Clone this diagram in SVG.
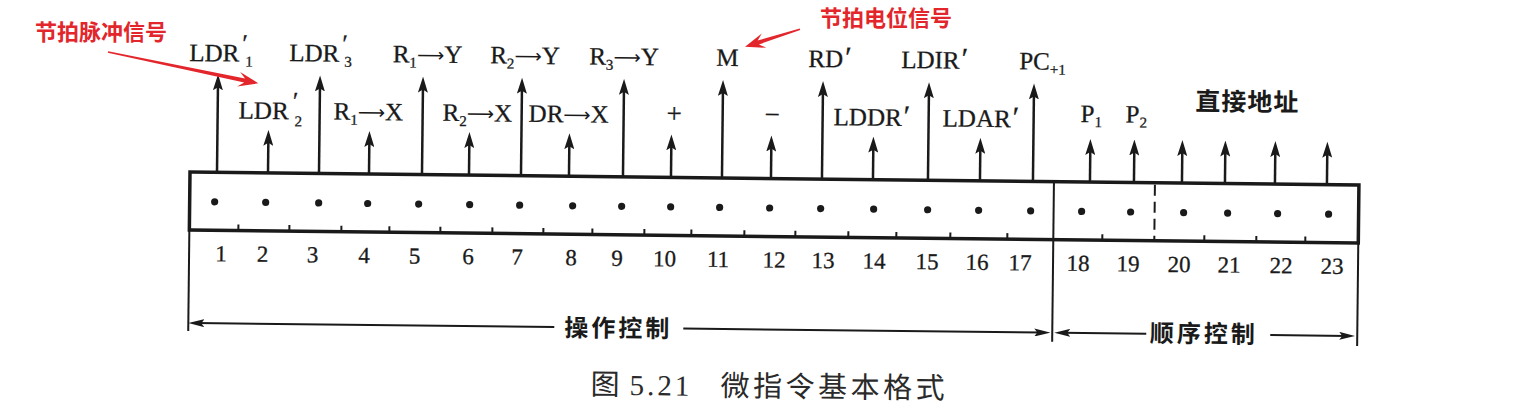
<svg xmlns="http://www.w3.org/2000/svg" width="1532" height="412" viewBox="0 0 1532 412">
<style>
.bg{fill:#ffffff}
.lbl{font-family:"Liberation Serif","DejaVu Serif",serif;font-size:25px;fill:#1a1a1a;stroke:#1a1a1a;stroke-width:0.3}
.sub{font-size:15px}
.pr{font-size:30px}
.arr{font-family:"DejaVu Sans",sans-serif;font-size:19px;stroke-width:0}
.num{font-family:"Liberation Serif","DejaVu Serif",serif;font-size:23px;fill:#1a1a1a;text-anchor:middle;stroke:#1a1a1a;stroke-width:0.3}
.cjk{font-family:"Noto Sans CJK SC",sans-serif;font-weight:bold;fill:#1a1a1a}
.cap{font-family:"Noto Sans CJK SC",sans-serif;font-size:29px;fill:#2a2a2a}
.red{font-family:"Noto Sans CJK SC",sans-serif;font-weight:bold;font-size:22px;fill:#e2262b}
.sig{stroke:#1a1a1a;stroke-width:2.5;fill:none;marker-end:url(#ah)}
.brk{stroke:#1a1a1a;stroke-width:2;fill:none;marker-end:url(#ah2)}
.edge{stroke:#1a1a1a;stroke-width:2;fill:none}
.tick{stroke:#1a1a1a;stroke-width:2}
.dot{fill:#1a1a1a}
</style>
<defs>
<marker id="ah" markerUnits="userSpaceOnUse" viewBox="0 0 16 10" markerWidth="16" markerHeight="10" refX="8" refY="5" orient="auto">
<path d="M0,0 L16,5 L0,10 L3,5 Z" fill="#1a1a1a"/>
</marker>
<marker id="ah2" markerUnits="userSpaceOnUse" viewBox="0 0 16 8" markerWidth="16" markerHeight="8" refX="8" refY="4" orient="auto">
<path d="M0,0 L16,4 L0,8 L3,4 Z" fill="#1a1a1a"/>
</marker>
</defs>
<rect class="bg" x="0" y="0" width="1532" height="412"/>
<g id="figure" transform="rotate(0.64 190 172)">
<g id="connectors">
<line class="sig" x1="217" y1="172" x2="217" y2="82"/>
<line class="sig" x1="268" y1="172" x2="268" y2="137"/>
<line class="sig" x1="319" y1="172" x2="319" y2="82"/>
<line class="sig" x1="369" y1="172" x2="369" y2="137"/>
<line class="sig" x1="422" y1="172" x2="422" y2="82"/>
<line class="sig" x1="469" y1="172" x2="469" y2="137"/>
<line class="sig" x1="521" y1="172" x2="521" y2="82"/>
<line class="sig" x1="569" y1="172" x2="569" y2="137"/>
<line class="sig" x1="623" y1="172" x2="623" y2="82"/>
<line class="sig" x1="671" y1="172" x2="671" y2="137"/>
<line class="sig" x1="722" y1="172" x2="722" y2="82"/>
<line class="sig" x1="771" y1="172" x2="771" y2="137"/>
<line class="sig" x1="822" y1="172" x2="822" y2="82"/>
<line class="sig" x1="873" y1="172" x2="873" y2="137"/>
<line class="sig" x1="928" y1="172" x2="928" y2="82"/>
<line class="sig" x1="980" y1="172" x2="980" y2="137"/>
<line class="sig" x1="1033" y1="172" x2="1033" y2="82"/>
<line class="sig" x1="1090" y1="172" x2="1090" y2="137"/>
<line class="sig" x1="1134" y1="172" x2="1134" y2="137"/>
<line class="sig" x1="1182" y1="172" x2="1182" y2="137"/>
<line class="sig" x1="1225" y1="172" x2="1225" y2="137"/>
<line class="sig" x1="1275" y1="172" x2="1275" y2="137"/>
<line class="sig" x1="1327" y1="172" x2="1327" y2="137"/>
<line class="brk" x1="556" y1="323" x2="198" y2="323"/>
<line class="brk" x1="685" y1="323" x2="1044" y2="323"/>
<line class="brk" x1="1148" y1="323" x2="1064" y2="323"/>
<line class="brk" x1="1272" y1="323" x2="1349" y2="323"/>
</g>
<g id="microinstruction">
<rect x="190" y="172" width="1169" height="58" fill="none" stroke="#1a1a1a" stroke-width="3.5"/>
<line class="edge" x1="190" y1="230" x2="190" y2="331"/>
<line class="edge" x1="1054" y1="172" x2="1054" y2="332"/>
<line class="edge" x1="1359" y1="230" x2="1359" y2="333"/>
<line x1="1155" y1="174" x2="1155" y2="229" stroke="#1a1a1a" stroke-width="2" stroke-dasharray="11 6"/>
<g class="tick">
<line x1="239" y1="230" x2="239" y2="224"/><line x1="290" y1="230" x2="290" y2="224"/>
<line x1="342" y1="230" x2="342" y2="224"/><line x1="390" y1="230" x2="390" y2="224"/>
<line x1="441" y1="230" x2="441" y2="224"/><line x1="493" y1="230" x2="493" y2="224"/>
<line x1="544" y1="230" x2="544" y2="224"/><line x1="593" y1="230" x2="593" y2="224"/>
<line x1="645" y1="230" x2="645" y2="224"/><line x1="692" y1="230" x2="692" y2="224"/>
<line x1="745" y1="230" x2="745" y2="224"/><line x1="796" y1="230" x2="796" y2="224"/>
<line x1="849" y1="230" x2="849" y2="224"/><line x1="897" y1="230" x2="897" y2="224"/>
<line x1="951" y1="230" x2="951" y2="224"/><line x1="1008" y1="230" x2="1008" y2="224"/>
<line x1="1103" y1="230" x2="1103" y2="224"/><line x1="1205" y1="230" x2="1205" y2="224"/>
<line x1="1257" y1="230" x2="1257" y2="224"/><line x1="1306" y1="230" x2="1306" y2="224"/>
</g>
<g class="dot">
<circle cx="215" cy="201.5" r="3.6"/><circle cx="266" cy="201.5" r="3.6"/><circle cx="319" cy="201.5" r="3.6"/>
<circle cx="368" cy="201.5" r="3.6"/><circle cx="419" cy="201.5" r="3.6"/><circle cx="470" cy="201.5" r="3.6"/>
<circle cx="520" cy="201.5" r="3.6"/><circle cx="573" cy="201.5" r="3.6"/><circle cx="622" cy="201.5" r="3.6"/>
<circle cx="671" cy="201.5" r="3.6"/><circle cx="720" cy="201.5" r="3.6"/><circle cx="770" cy="201.5" r="3.6"/>
<circle cx="821" cy="201.5" r="3.6"/><circle cx="874" cy="201.5" r="3.6"/><circle cx="928" cy="201.5" r="3.6"/>
<circle cx="979" cy="201.5" r="3.6"/><circle cx="1031" cy="201.5" r="3.6"/><circle cx="1082" cy="201.5" r="3.6"/>
<circle cx="1131" cy="201.5" r="3.6"/><circle cx="1184" cy="201.5" r="3.6"/><circle cx="1228" cy="201.5" r="3.6"/>
<circle cx="1278" cy="201.5" r="3.6"/><circle cx="1329" cy="201.5" r="3.6"/>
</g>
</g>
<g id="bit-numbers" class="num">
<text x="222" y="261">1</text><text x="263.5" y="261">2</text><text x="313.5" y="261">3</text>
<text x="365" y="261">4</text><text x="415.5" y="261">5</text><text x="469" y="261">6</text>
<text x="518" y="261">7</text><text x="572" y="261">8</text><text x="618" y="261">9</text>
<text x="665.5" y="261">10</text><text x="719" y="261">11</text><text x="775" y="261">12</text>
<text x="824" y="261">13</text><text x="875" y="261">14</text><text x="928" y="261">15</text>
<text x="978" y="261">16</text><text x="1021" y="261">17</text><text x="1079" y="261">18</text>
<text x="1129" y="261">19</text><text x="1180" y="261">20</text><text x="1230" y="261">21</text>
<text x="1282" y="261">22</text><text x="1333" y="261">23</text>
</g>
<g id="signals" class="lbl">
<text x="188" y="61">LDR<tspan x="241" y="51">′</tspan><tspan class="sub" x="244" y="66">1</tspan></text>
<text x="288" y="60">LDR<tspan x="341" y="50">′</tspan><tspan class="sub" x="343" y="65">3</tspan></text>
<text x="391.5" y="60">R<tspan class="sub" dy="5">1</tspan><tspan class="arr" dy="-6">⟶</tspan><tspan dy="1">Y</tspan></text>
<text x="489" y="60">R<tspan class="sub" dy="5">2</tspan><tspan class="arr" dy="-6">⟶</tspan><tspan dy="1">Y</tspan></text>
<text x="588" y="60">R<tspan class="sub" dy="5">3</tspan><tspan class="arr" dy="-6">⟶</tspan><tspan dy="1">Y</tspan></text>
<text x="715" y="60">M</text>
<text x="807" y="60">RD<tspan class="pr" dx="2">′</tspan></text>
<text x="900" y="60">LDIR<tspan class="pr" dx="2">′</tspan></text>
<text x="1018" y="60">PC<tspan class="sub" dy="5">+1</tspan></text>
<text x="238" y="118">LDR<tspan x="292" y="108">′</tspan><tspan class="sub" x="294" y="125">2</tspan></text>
<text x="333" y="118">R<tspan class="sub" dy="5">1</tspan><tspan class="arr" dy="-6">⟶</tspan><tspan dy="1">X</tspan></text>
<text x="442" y="118">R<tspan class="sub" dy="5">2</tspan><tspan class="arr" dy="-6">⟶</tspan><tspan dy="1">X</tspan></text>
<text x="528" y="118">DR<tspan class="arr" dy="-1">⟶</tspan><tspan dy="1">X</tspan></text>
<text x="673.5" y="117" text-anchor="middle" font-size="27">+</text>
<text x="771.5" y="117" text-anchor="middle" font-size="27">−</text>
<text x="833" y="118">LDDR<tspan class="pr" dx="2">′</tspan></text>
<text x="942" y="118">LDAR<tspan class="pr" dx="2">′</tspan></text>
<text x="1080" y="112">P<tspan class="sub" dy="5">1</tspan></text>
<text x="1125" y="112">P<tspan class="sub" dy="5">2</tspan></text>
</g>
<g id="field-labels">
<text class="cjk" x="1246.5" y="99" font-size="25" text-anchor="middle" letter-spacing="1">直接地址</text>
<text class="cjk" x="620" y="332" font-size="24" text-anchor="middle" letter-spacing="3">操作控制</text>
<text class="cjk" x="1205.5" y="331" font-size="24" text-anchor="middle" letter-spacing="3">顺序控制</text>
</g>
<g id="caption">
<text class="cap" x="593" y="390">图</text>
<text x="632" y="390" font-family="Liberation Serif, serif" font-size="29" fill="#2a2a2a" letter-spacing="3">5.21</text>
<text class="cap" x="723" y="390" letter-spacing="3.5">微指令基本格式</text>
</g>
</g>
<g id="annotations">
<g id="note-pulse">
<text class="red" x="35" y="39.5" font-size="22.5">节拍脉冲信号</text>
<path d="M108.2,51.2 L245.0,78.5 L240.2,72.0 L258.3,83.3 L237.2,86.6 L244.2,82.5 L107.8,52.8 Z" fill="#e2262b"/>
</g>
<g id="note-level">
<text class="red" x="820" y="25.5" font-size="22.5">节拍电位信号</text>
<path d="M799.8,28.5 L757.7,40.6 L761.8,33.6 L745,46.7 L766.4,47.8 L758.9,44.4 L800.2,30.1 Z" fill="#e2262b"/>
</g>
</g>
</svg>
